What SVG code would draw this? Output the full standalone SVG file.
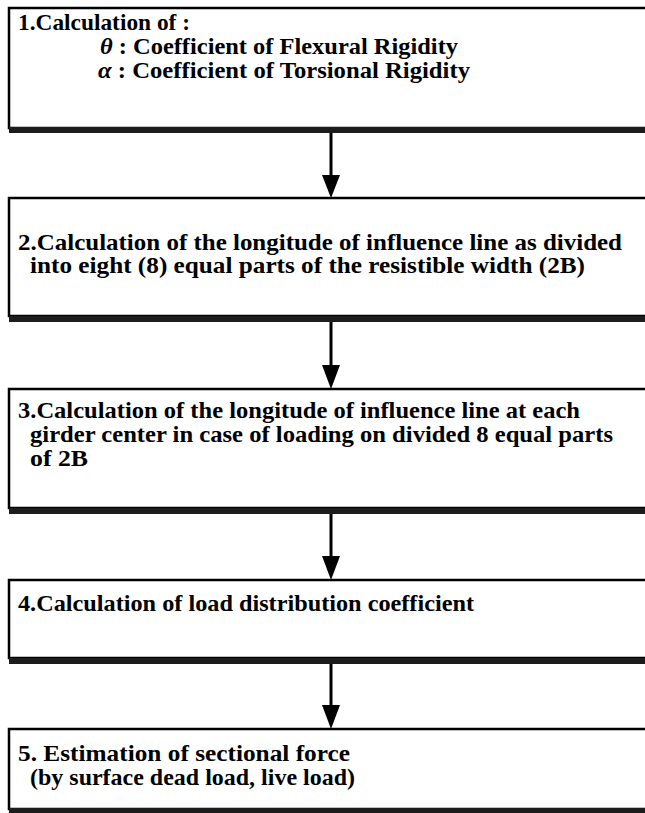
<svg xmlns="http://www.w3.org/2000/svg" width="645" height="813" viewBox="0 0 645 813">
<style>
.box{fill:#fff;stroke:#000;stroke-width:2.5}
.shadow{fill:#1c1c1c}
text{font-family:'Liberation Serif','Times New Roman','DejaVu Serif',serif;font-size:23px;font-weight:700;fill:#000}
#connectors line{stroke:#000;stroke-width:3}
#connectors polygon{fill:#000}
</style>
<rect width="645" height="813" fill="#fff"/>
<g id="connectors">
<line x1="331" y1="133" x2="331" y2="177"/><polygon points="322,175 340,175 331,198"/>
<line x1="331" y1="322" x2="331" y2="367"/><polygon points="322,365 340,365 331,389"/>
<line x1="331" y1="514" x2="331" y2="558"/><polygon points="322,556 340,556 331,580"/>
<line x1="331" y1="664" x2="331" y2="707"/><polygon points="322,705 340,705 331,729"/>
</g>
<g id="step1">
<rect class="box" x="9" y="8" width="660" height="120"/>
<rect class="shadow" x="9" y="127" width="640" height="6"/>
<text x="18" y="30" textLength="172" lengthAdjust="spacingAndGlyphs">1.Calculation of :</text>
<text x="100" y="54" textLength="358" lengthAdjust="spacingAndGlyphs"><tspan font-style="italic">θ</tspan> : Coefficient of Flexural Rigidity</text>
<text x="98" y="78" textLength="372" lengthAdjust="spacingAndGlyphs"><tspan font-style="italic">α</tspan> : Coefficient of Torsional Rigidity</text>
</g>
<g id="step2">
<rect class="box" x="9" y="198" width="660" height="118"/>
<rect class="shadow" x="9" y="316" width="640" height="6"/>
<text x="18" y="250" textLength="604" lengthAdjust="spacingAndGlyphs">2.Calculation of the longitude of influence line as divided</text>
<text x="30" y="273" textLength="555" lengthAdjust="spacingAndGlyphs">into eight (8) equal parts of the resistible width (2B)</text>
</g>
<g id="step3">
<rect class="box" x="9" y="389" width="660" height="119"/>
<rect class="shadow" x="9" y="508" width="640" height="6"/>
<text x="18" y="418" textLength="562" lengthAdjust="spacingAndGlyphs">3.Calculation of the longitude of influence line at each</text>
<text x="30" y="442" textLength="583" lengthAdjust="spacingAndGlyphs">girder center in case of loading on divided 8 equal parts</text>
<text x="30" y="466" textLength="58" lengthAdjust="spacingAndGlyphs">of 2B</text>
</g>
<g id="step4">
<rect class="box" x="9" y="580" width="660" height="78"/>
<rect class="shadow" x="9" y="658" width="640" height="6"/>
<text x="18" y="611" textLength="456" lengthAdjust="spacingAndGlyphs">4.Calculation of load distribution coefficient</text>
</g>
<g id="step5">
<rect class="box" x="9" y="729" width="660" height="80"/>
<rect class="shadow" x="9" y="808" width="640" height="5"/>
<text x="18" y="761" textLength="332" lengthAdjust="spacingAndGlyphs">5. Estimation of sectional force</text>
<text x="30" y="785" textLength="325" lengthAdjust="spacingAndGlyphs">(by surface dead load, live load)</text>
</g>
</svg>
